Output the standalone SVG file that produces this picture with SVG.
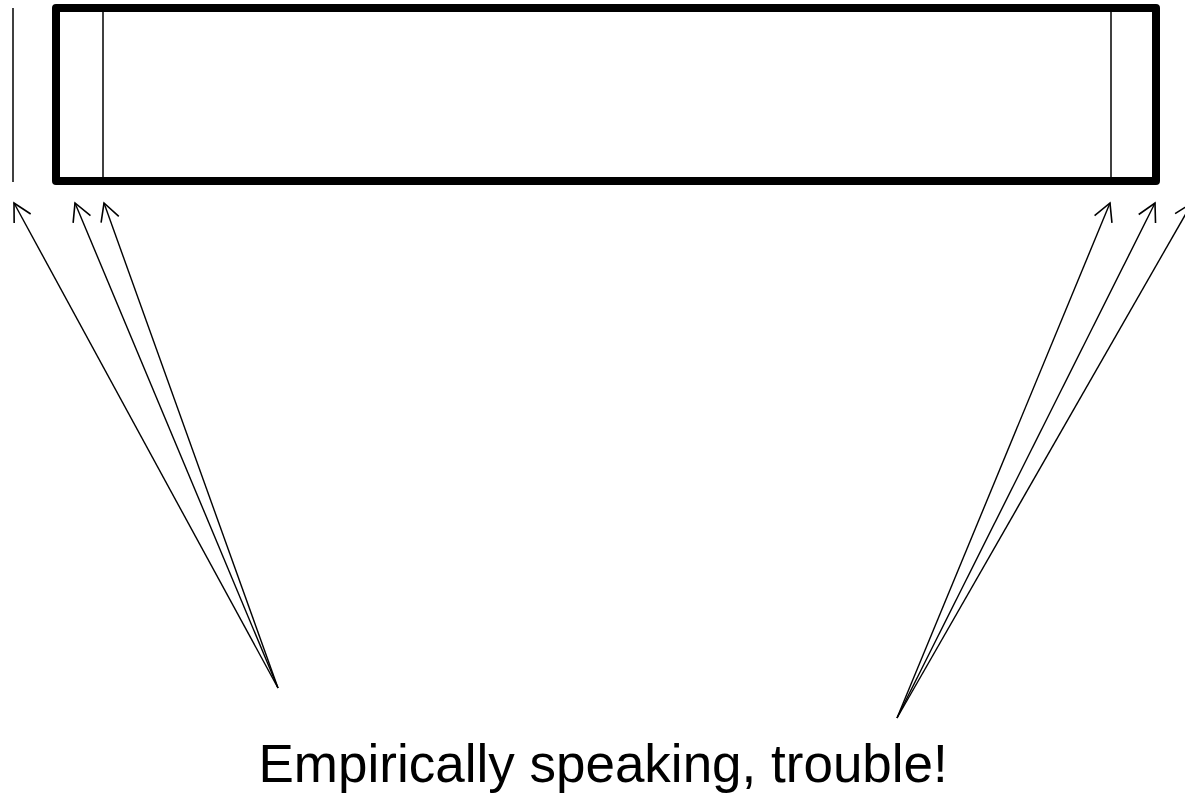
<svg xmlns="http://www.w3.org/2000/svg" width="1185" height="794" viewBox="0 0 1185 794">
<style>
.thin{stroke:#000;stroke-width:1.5;fill:none}
.frame{stroke:#000;stroke-width:8;fill:none;stroke-linejoin:round}
.conn{stroke:#000;stroke-width:1.4;fill:none;marker-end:url(#open)}
.lbl{font-family:"Liberation Sans",Arial,sans-serif;font-size:53px;fill:#000}
</style>
<defs>
<marker id="open" markerUnits="userSpaceOnUse" markerWidth="24" markerHeight="24" viewBox="-20 -12 24 24" refX="0" refY="0" orient="auto">
<path d="M-17.6,-9.4 L0,0 L-17.6,9.4" fill="none" stroke="#000" stroke-width="1.6"/>
</marker>
</defs>
<g id="left-line"><line class="thin" x1="13" y1="8" x2="13" y2="182"/></g>
<g id="frame">
<rect class="frame" x="56" y="8" width="1100" height="173"/>
<line class="thin" x1="103" y1="8" x2="103" y2="181"/>
<line class="thin" x1="1111" y1="8" x2="1111" y2="181"/>
</g>
<g id="connectors">
<line class="conn" x1="278" y1="688" x2="14" y2="203"/>
<line class="conn" x1="278" y1="688" x2="75" y2="203"/>
<line class="conn" x1="278" y1="688" x2="104" y2="203"/>
<line class="conn" x1="897" y1="718" x2="1110" y2="203"/>
<line class="conn" x1="897" y1="718" x2="1155" y2="203"/>
<line class="conn" x1="897" y1="718" x2="1192" y2="203"/>
</g>
<g id="label"><text class="lbl" x="258.5" y="782">Empirically speaking, trouble!</text></g>
</svg>
